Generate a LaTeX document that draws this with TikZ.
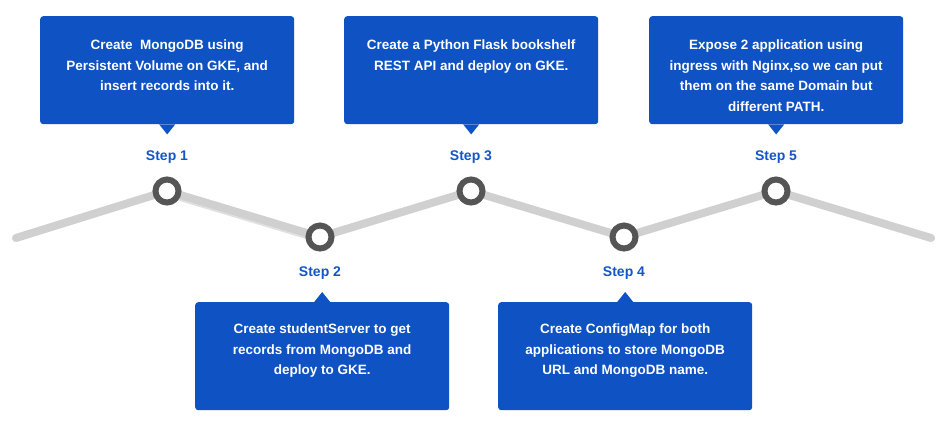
\documentclass[tikz,border=0pt]{standalone}
\usepackage{fontspec}
\setmainfont{Liberation Sans}
\usetikzlibrary{calc}
\definecolor{cardblue}{RGB}{14,82,196}
\definecolor{stepblue}{RGB}{18,86,200}
\definecolor{dotgray}{RGB}{85,85,85}
\definecolor{trackgray}{RGB}{208,208,208}
\pgfdeclarelayer{bg}
\pgfsetlayers{bg,main}
\begin{document}
\begin{tikzpicture}[x=1pt,y=-1pt]
\tikzset{
 card/.style={fill=cardblue, rounded corners=3pt, minimum width=254pt, minimum height=108pt, inner sep=0pt, anchor=north west},
 cardtext/.style={text=white, font=\bfseries\fontsize{13.5}{20.5}\selectfont, align=center, anchor=north, inner sep=0pt},
 steplbl/.style={text=stepblue, font=\bfseries\fontsize{14}{16}\selectfont},
 dot/.style={circle, draw=dotgray, line width=6pt, fill=white, minimum size=23pt, inner sep=0pt},
 track/.style={draw=trackgray, line width=8pt, line cap=round},
 pointer/.style={fill=cardblue},
}
\useasboundingbox (0,0) rectangle (951,429);
% cards
\node[card] (b1) at (40,16) {};
\node[card] (b3) at (344,16) {};
\node[card] (b5) at (649,16) {};
\node[card] (b2) at (195,302) {};
\node[card] (b4) at (498,302) {};
% pointers
\fill[pointer] ($(b1.south)+(-8,0)$) -- ($(b1.south)+(0,10)$) -- ($(b1.south)+(8,0)$) -- cycle;
\fill[pointer] ($(b3.south)+(-8,0)$) -- ($(b3.south)+(0,10)$) -- ($(b3.south)+(8,0)$) -- cycle;
\fill[pointer] ($(b5.south)+(-8,0)$) -- ($(b5.south)+(0,10)$) -- ($(b5.south)+(8,0)$) -- cycle;
\fill[pointer] ($(b2.north)+(-8,0)$) -- ($(b2.north)+(0,-10)$) -- ($(b2.north)+(8,0)$) -- cycle;
\fill[pointer] ($(b4.north)+(-8,0)$) -- ($(b4.north)+(0,-10)$) -- ($(b4.north)+(8,0)$) -- cycle;
% card texts
\node[cardtext] (t1) at ($(b1.north)+(0,24)$) {Create\ \ MongoDB using\\Persistent Volume on GKE, and\\insert records into it.};
\node[cardtext] (t3) at ($(b3.north)+(0,24)$) {Create a Python Flask bookshelf\\REST API and deploy on GKE.};
\node[cardtext] (t5) at ($(b5.north)+(0,24)$) {Expose 2 application using\\ingress with Nginx,so we can put\\them on the same Domain but\\different PATH.};
\node[cardtext] (t2) at ($(b2.north)+(0,22)$) {Create studentServer to get\\records from MongoDB and\\deploy to GKE.};
\node[cardtext] (t4) at ($(b4.north)+(0,22)$) {Create ConfigMap for both\\applications to store MongoDB\\URL and MongoDB name.};
% step labels
\node[steplbl] (l1) at (167,157) {Step 1};
\node[steplbl] (l3) at (471,157) {Step 3};
\node[steplbl] (l5) at (776,157) {Step 5};
\node[steplbl] (l2) at (320,273) {Step 2};
\node[steplbl] (l4) at (624,273) {Step 4};
% dots
\node[dot] (c1) at (167,191) {};
\node[dot] (c2) at (320,237) {};
\node[dot] (c3) at (471,191) {};
\node[dot] (c4) at (624,237) {};
\node[dot] (c5) at (776,191) {};
\coordinate (s0) at (16,238);
\coordinate (s6) at (931,238);
\begin{pgfonlayer}{bg}
\draw[draw=black, opacity=0.12, line width=8pt, transform canvas={yshift=-2pt}] (c1.center) -- (c2.center);
\draw[track] (s0) -- (c1.center);
\draw[track] (c1.center) -- (c2.center);
\draw[track] (c2.center) -- (c3.center);
\draw[track] (c3.center) -- (c4.center);
\draw[track] (c4.center) -- (c5.center);
\draw[track] (c5.center) -- (s6);
\end{pgfonlayer}
\end{tikzpicture}
\end{document}
